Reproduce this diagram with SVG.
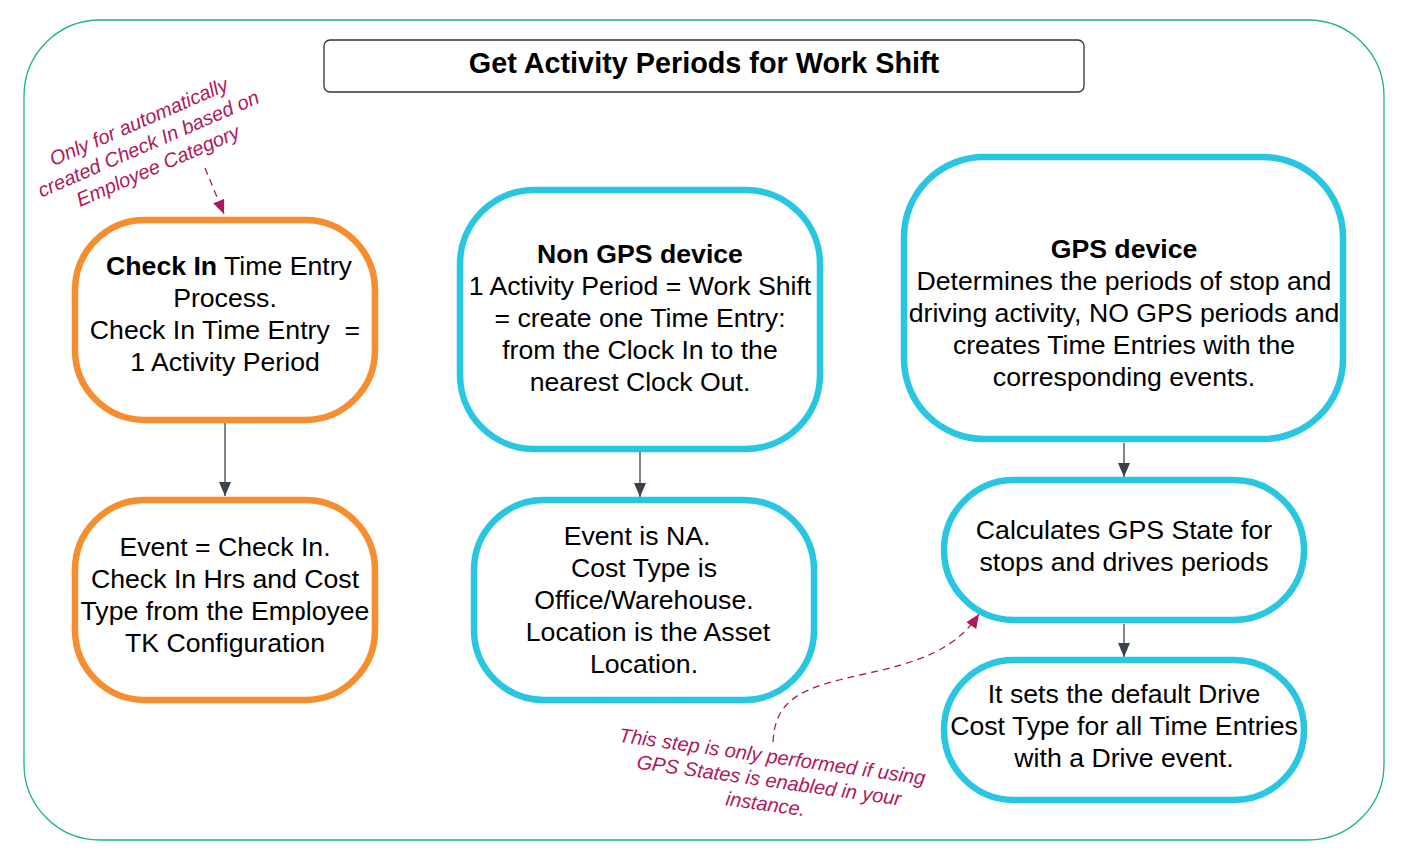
<svg xmlns="http://www.w3.org/2000/svg" width="1404" height="858" viewBox="0 0 1404 858">
<style>
.t{font-family:"Liberation Sans",Arial,sans-serif;font-size:26.67px;fill:#000;text-anchor:middle}
.b{font-weight:bold}
.o{fill:#fff;stroke:#f68d2e;stroke-width:6.5}
.c{fill:#fff;stroke:#29c6e2;stroke-width:6.5}
.ln{fill:none;stroke:#3b424c;stroke-width:1.3}
.dl{fill:none;stroke:#b0185c;stroke-width:1.3;stroke-dasharray:7,5}
.an{font-family:"Liberation Sans",Arial,sans-serif;font-size:20px;font-style:italic;fill:#b0185c;text-anchor:middle}
</style>
<defs>
<marker id="ag" markerUnits="userSpaceOnUse" markerWidth="16" markerHeight="14" refX="14" refY="6" orient="auto">
<path d="M0,0 L14,6 L0,12 Z" fill="#3b424c"/>
</marker>
<marker id="ar" markerUnits="userSpaceOnUse" markerWidth="16" markerHeight="14" refX="14" refY="6" orient="auto">
<path d="M0,0 L14,6 L0,12 Z" fill="#b0185c"/>
</marker>
</defs>
<rect x="0" y="0" width="1404" height="858" fill="#fff"/>
<rect id="frame" x="24" y="20" width="1360" height="820" rx="76" ry="76" fill="none" stroke="#1db57d" stroke-width="1.3"/>
<g id="title">
<rect x="324" y="40" width="760" height="52" rx="6" fill="#fff" stroke="#333" stroke-width="1.3"/>
<text class="t b" x="704" y="73" style="font-size:28.8px">Get Activity Periods for Work Shift</text>
</g>
<g id="connectors">
<line class="ln" x1="225" y1="423" x2="225" y2="496" marker-end="url(#ag)"/>
<line class="ln" x1="640" y1="452" x2="640" y2="497" marker-end="url(#ag)"/>
<line class="ln" x1="1124" y1="443" x2="1124" y2="477" marker-end="url(#ag)"/>
<line class="ln" x1="1124" y1="624" x2="1124" y2="657" marker-end="url(#ag)"/>
<path class="dl" d="M205,168 L224,214" marker-end="url(#ar)"/>
<path class="dl" d="M773,742 C775,700 800,688 860,675 C920,662 955,650 979,614" marker-end="url(#ar)"/>
</g>
<g id="checkin">
<rect class="o" x="75" y="220" width="300" height="200" rx="70" ry="70"/>
<text class="t" x="229" y="275"><tspan class="b">Check In</tspan> Time Entry</text>
<text class="t" x="225" y="307">Process.</text>
<text class="t" x="225" y="339">Check In Time Entry &#160;=</text>
<text class="t" x="225" y="371">1 Activity Period</text>
</g>
<g id="event">
<rect class="o" x="75" y="500" width="300" height="200" rx="70" ry="70"/>
<text class="t" x="225" y="556">Event = Check In.</text>
<text class="t" x="225" y="588">Check In Hrs and Cost</text>
<text class="t" x="225" y="620">Type from the Employee</text>
<text class="t" x="225" y="652">TK Configuration</text>
</g>
<g id="nongps">
<rect class="c" x="460" y="190" width="360" height="259" rx="74" ry="74"/>
<text class="t b" x="640" y="263">Non GPS device</text>
<text class="t" x="640" y="295">1 Activity Period = Work Shift</text>
<text class="t" x="640" y="327">= create one Time Entry:</text>
<text class="t" x="640" y="359">from the Clock In to the</text>
<text class="t" x="640" y="391">nearest Clock Out.</text>
</g>
<g id="eventna">
<rect class="c" x="474" y="500" width="340" height="200" rx="70" ry="70"/>
<text class="t" x="637" y="545">Event is NA.</text>
<text class="t" x="644" y="577">Cost Type is</text>
<text class="t" x="644" y="609">Office/Warehouse.</text>
<text class="t" x="648" y="641">Location is the Asset</text>
<text class="t" x="644" y="673">Location.</text>
</g>
<g id="gps">
<rect class="c" x="904" y="157" width="439" height="282" rx="80" ry="80"/>
<text class="t b" x="1124" y="258">GPS device</text>
<text class="t" x="1124" y="290">Determines the periods of stop and</text>
<text class="t" x="1124" y="322">driving activity, NO GPS periods and</text>
<text class="t" x="1124" y="354">creates Time Entries with the</text>
<text class="t" x="1124" y="386">corresponding events.</text>
</g>
<g id="calc">
<rect class="c" x="944" y="480" width="360" height="140" rx="70" ry="70"/>
<text class="t" x="1124" y="539">Calculates GPS State for</text>
<text class="t" x="1124" y="571">stops and drives periods</text>
</g>
<g id="drive">
<rect class="c" x="944" y="660" width="360" height="140" rx="70" ry="70"/>
<text class="t" x="1124" y="703">It sets the default Drive</text>
<text class="t" x="1124" y="735">Cost Type for all Time Entries</text>
<text class="t" x="1124" y="767">with a Drive event.</text>
</g>
<g id="note1" transform="translate(151,150) rotate(-23.5)">
<text class="an" x="0" y="-24">Only for automatically</text>
<text class="an" x="0" y="0">created Check In based on</text>
<text class="an" x="0" y="24">Employee Category</text>
</g>
<g id="note2" transform="translate(768,787) rotate(8)">
<text class="an" x="0" y="-24">This step is only performed if using</text>
<text class="an" x="0" y="0">GPS States is enabled in your</text>
<text class="an" x="0" y="24">instance.</text>
</g>
</svg>
